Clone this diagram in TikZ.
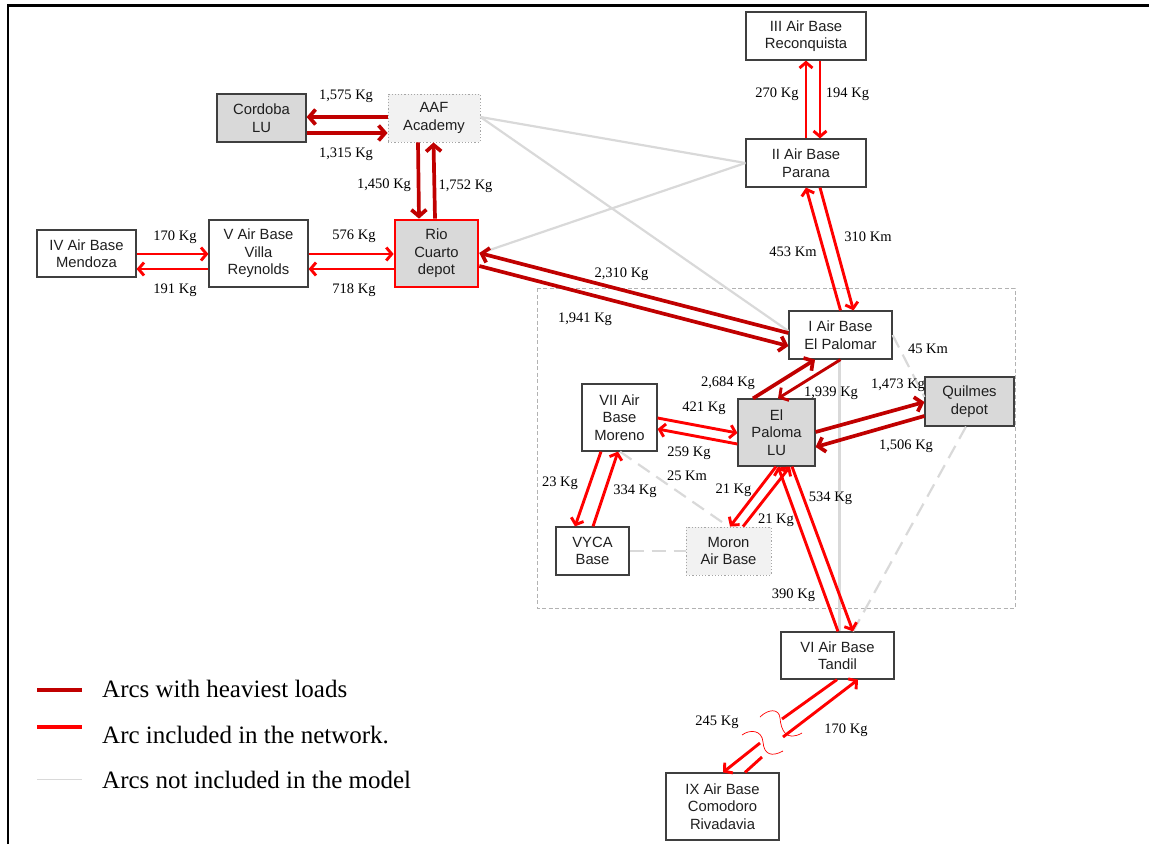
\documentclass[tikz,border=0pt]{standalone}
\usepackage{fontspec}
\setmainfont{Liberation Serif}
\newfontfamily\boxfont{Liberation Sans}
\usetikzlibrary{arrows.meta}

\definecolor{heavy}{HTML}{C00000}
\definecolor{netred}{HTML}{FF0000}
\definecolor{offarc}{HTML}{D9D9D9}
\definecolor{lugray}{HTML}{D9D9D9}
\definecolor{paleg}{HTML}{F2F2F2}
\definecolor{boxline}{HTML}{3F3F3F}

\begin{document}
\begin{tikzpicture}[x=1pt,y=-1pt,
  base/.style={draw=boxline, line width=1.2pt, fill=white, inner sep=0pt, align=center,
    font=\boxfont\fontsize{14.8}{17.5}\selectfont, text=black!88},
  lu/.style={base, fill=lugray},
  aux/.style={base, fill=paleg, draw=gray!70, dotted, line width=0.9pt},
  depot/.style={base, fill=lugray, draw=netred, line width=2.7pt},
  lbl/.style={font=\fontsize{14.5}{16}\selectfont, inner sep=0pt},
  legendtext/.style={font=\fontsize{25}{27}\selectfont, inner sep=0pt, anchor=base west},
  heavyarc/.style={draw=heavy, line width=3.7pt, -{Straight Barb[length=6.5pt,width=15pt]}},
  netarc/.style={draw=netred, line width=2.9pt, -{Straight Barb[length=5.5pt,width=13pt]}},
  offline/.style={draw=offarc, line width=2.2pt},
  offdash/.style={offline, dash pattern=on 14pt off 8pt},
]
\useasboundingbox (0,0) rectangle (1149,844);

% page frame (top and left edges)
\coordinate (fbl) at (8,844);
\coordinate (ftl) at (8,5.3);
\coordinate (ftr) at (1149,5.3);
\draw[line width=2.7pt, line join=miter] (fbl) -- (ftl) -- (ftr);

% Buenos Aires area
\draw[gray!60, line width=0.8pt, dash pattern=on 4pt off 2.5pt] (537,288) rectangle (1015,608);

% bases and depots
\node[lu,    minimum width=89pt,  minimum height=48pt] (cordoba)     at (261.5,118)   {Cordoba\\LU};
\node[aux,   minimum width=92pt,  minimum height=48pt] (aaf)         at (434,118)     {AAF\\Academy};
\node[base,  minimum width=99pt,  minimum height=47pt] (mendoza)     at (86.5,253.5)  {IV Air Base\\Mendoza};
\node[base,  minimum width=99pt,  minimum height=67pt] (villa)       at (258.5,253.5) {V Air Base\\Villa\\Reynolds};
\node[depot, minimum width=83pt,  minimum height=67pt] (rio)         at (436.5,253.5) {Rio\\Cuarto\\depot};
\node[base,  minimum width=120pt, minimum height=48pt] (reconquista) at (806,36)      {III Air Base\\Reconquista};
\node[base,  minimum width=120pt, minimum height=48pt] (parana)      at (806,163)     {II Air Base\\Parana};
\node[base,  minimum width=103pt, minimum height=48pt] (palomar)     at (840.5,335)   {I Air Base\\El Palomar};
\node[lu,    minimum width=77pt,  minimum height=67pt] (paloma)      at (776.5,432.5) {El\\Paloma\\LU};
\node[base,  minimum width=75pt,  minimum height=67pt] (moreno)      at (619.5,417.5) {VII Air\\Base\\Moreno};
\node[lu,    minimum width=89pt,  minimum height=49pt] (quilmes)     at (969.5,401.5) {Quilmes\\depot};
\node[base,  minimum width=73pt,  minimum height=48pt] (vyca)        at (592.5,551)   {VYCA\\Base};
\node[aux,   minimum width=85pt,  minimum height=48pt] (moron)       at (728.5,551)   {Moron\\Air Base};
\node[base,  minimum width=113pt, minimum height=47pt] (tandil)      at (837.5,655.5) {VI Air Base\\Tandil};
\node[base,  minimum width=113pt, minimum height=67pt] (ix)          at (722.5,806.5) {IX Air Base\\Comodoro\\Rivadavia};

% arcs left out of the model
\draw[offline] ([yshift=1pt]aaf.east) -- (parana.west);
\draw[offline] ([yshift=1pt]aaf.east) -- ([yshift=4pt]palomar.west);
\draw[offline] (rio.east) -- (parana.west);
\draw[offline] ([xshift=-1pt]palomar.south) -- ([xshift=-1pt]palomar.south |- tandil.north);
\draw[offdash] (palomar.east) -- ([yshift=4.5pt]quilmes.west);
\draw[offdash] ([xshift=-3.5pt]quilmes.south) -- ([xshift=15.5pt]tandil.north);
\draw[offdash] ([xshift=0.5pt]moreno.south) -- (moron.north);
\draw[offdash] (vyca.east) -- (moron.west);

% heaviest arcs
\draw[heavyarc] ([yshift=1pt]aaf.west) -- ([yshift=1pt]cordoba.east);
\draw[heavyarc] ([yshift=-15pt]cordoba.east) -- ([yshift=-15pt]aaf.west);
\draw[heavyarc] ([xshift=-16pt]aaf.south) -- ([xshift=-17.5pt]rio.north);
\draw[heavyarc] ([xshift=-1.5pt]rio.north) -- ([xshift=-0.5pt]aaf.south);
\draw[heavyarc] ([yshift=2pt]palomar.west) -- ([yshift=0.5pt]rio.east);
\draw[heavyarc] ([yshift=-12.5pt]rio.east) -- ([yshift=-11pt]palomar.west);
\draw[heavyarc] ([xshift=-23.5pt]paloma.north) -- ([xshift=-25.5pt]palomar.south);
\draw[heavyarc, line width=2.9pt] (palomar.south) -- ([xshift=1.5pt]paloma.north);
\draw[heavyarc] ([yshift=0.5pt]paloma.east) -- ([yshift=-0.5pt]quilmes.west);
\draw[heavyarc] ([yshift=-14.5pt]quilmes.west) -- ([yshift=-14.5pt]paloma.east);

% other arcs of the network
\draw[netarc] ([yshift=-0.5pt]mendoza.east) -- ([yshift=-0.5pt]villa.west);
\draw[netarc] ([yshift=-15.5pt]villa.west) -- ([yshift=-15.5pt]mendoza.east);
\draw[netarc] ([yshift=-0.5pt]villa.east) -- ([yshift=-0.5pt]rio.west);
\draw[netarc] ([yshift=-15.5pt]rio.west) -- ([yshift=-15.5pt]villa.east);
\draw[netarc] (parana.north) -- (reconquista.south);
\draw[netarc] ([xshift=14pt]reconquista.south) -- ([xshift=14pt]parana.north);
\draw[netarc] (palomar.north) -- (parana.south);
\draw[netarc] ([xshift=14pt]parana.south) -- ([xshift=13pt]palomar.north);
\draw[netarc] ([yshift=-0.5pt]moreno.east) -- ([yshift=-0.5pt]paloma.west);
\draw[netarc] ([yshift=-11.5pt]paloma.west) -- ([yshift=-11.5pt]moreno.east);
\draw[netarc] ([xshift=-18.5pt]moreno.south) -- ([xshift=-17.5pt]vyca.north);
\draw[netarc] ([xshift=0.5pt]vyca.north) -- ([xshift=-1.5pt]moreno.south);
\draw[netarc] ([xshift=-0.5pt]paloma.south) -- ([xshift=1.5pt]moron.north);
\draw[netarc] ([xshift=14.5pt]moron.north) -- ([xshift=13.5pt]paloma.south);
\draw[netarc] ([xshift=15.5pt]paloma.south) -- ([xshift=15.5pt]tandil.north);
\draw[netarc] ([xshift=0.5pt]tandil.north) -- ([xshift=1.5pt]paloma.south);

% long Tandil - Comodoro Rivadavia arcs, shown with a break
\coordinate (t1) at (782,719);
\coordinate (t2) at (760,743);
\coordinate (i1) at (762,757);
\coordinate (i2) at (783,737);
\draw[netarc, -] ([xshift=-0.5pt]tandil.south) -- (t1);
\draw[netarc] (t2) -- ([xshift=0.5pt]ix.north);
\draw[netarc, -] ([xshift=22.5pt]ix.north) -- (i1);
\draw[netarc] (i2) -- ([xshift=20.5pt]tandil.south);
\draw[netred, line width=0.7pt] (760,717) .. controls (768,709) and (779,708) .. (780,718)
  .. controls (781,730) and (786,742) .. (802,733);
\draw[netred, line width=0.7pt] (742,735) .. controls (750,729) and (762,730) .. (763,742)
  .. controls (764,755) and (772,757) .. (783,751);

% loads and distances
\node[lbl] (l1575) at (346,96) {1,575 Kg};
\node[lbl] (l1315) at (346,154) {1,315 Kg};
\node[lbl] (l1450) at (384,185) {1,450 Kg};
\node[lbl] (l1752) at (465.5,186) {1,752 Kg};
\node[lbl] (l170a) at (175,237) {170 Kg};
\node[lbl] (l191) at (175,290) {191 Kg};
\node[lbl] (l576) at (354,236) {576 Kg};
\node[lbl] (l718) at (354,290) {718 Kg};
\node[lbl] (l270) at (777,94) {270 Kg};
\node[lbl] (l194) at (847.5,94) {194 Kg};
\node[lbl] (l310) at (868,237) {310 Km};
\node[lbl] (l453) at (793,252) {453 Km};
\node[lbl] (l2310) at (621.5,274) {2,310 Kg};
\node[lbl] (l1941) at (585,319) {1,941 Kg};
\node[lbl] (l45) at (928,349) {45 Km};
\node[lbl] (l2684) at (728,383) {2,684 Kg};
\node[lbl] (l1939) at (831,393) {1,939 Kg};
\node[lbl] (l1473) at (898,385) {1,473 Kg};
\node[lbl] (l1506) at (906,446) {1,506 Kg};
\node[lbl] (l421) at (704,408) {421 Kg};
\node[lbl] (l259) at (689,453) {259 Kg};
\node[lbl] (l25) at (687,476) {25 Km};
\node[lbl] (l23) at (560,483) {23 Kg};
\node[lbl] (l334) at (635,491) {334 Kg};
\node[lbl] (l21a) at (733.5,490) {21 Kg};
\node[lbl] (l21b) at (776,520) {21 Kg};
\node[lbl] (l534) at (830.5,498) {534 Kg};
\node[lbl] (l390) at (793.5,595) {390 Kg};
\node[lbl] (l245) at (717,722) {245 Kg};
\node[lbl] (l170b) at (846,730) {170 Kg};

% legend
\coordinate (lga) at (37,690);  \coordinate (lgb) at (82,690);
\coordinate (lgc) at (37,727);  \coordinate (lgd) at (82,727);
\coordinate (lge) at (37,779);  \coordinate (lgf) at (82,779);
\draw[heavy, line width=4pt] (lga) -- (lgb);
\draw[netred, line width=3.8pt] (lgc) -- (lgd);
\draw[offarc, line width=1pt] (lge) -- (lgf);
\node[legendtext] (lgt1) at (102,697) {Arcs with heaviest loads};
\node[legendtext] (lgt2) at (102,743) {Arc included in the network.};
\node[legendtext] (lgt3) at (102,788) {Arcs not included in the model};
\end{tikzpicture}
\end{document}
